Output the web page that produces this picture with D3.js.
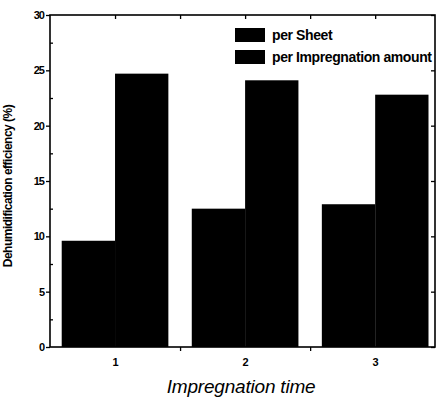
<!DOCTYPE html>
<html>
<head>
<meta charset="utf-8">
<script src="https://cdn.jsdelivr.net/npm/d3@7"></script>
<style>
  body { margin: 0; background: #fff; }
  text { font-family: "Liberation Sans", Arial, sans-serif; fill: #000; }
</style>
</head>
<body>
<svg width="440" height="398"></svg>
<script>
// data
var times = [1, 2, 3];
var perSheet = [9.6, 12.5, 12.9];
var perAmount = [24.7, 24.1, 22.8];
var seriesNames = ["per Sheet", "per Impregnation amount"];
var yTicks = [0, 5, 10, 15, 20, 25, 30];

// plot box
var margin = { top: 15, right: 5, bottom: 51, left: 50 },
    width = 440 - margin.left - margin.right,
    height = 398 - margin.top - margin.bottom;

var svg = d3.select("svg")
    .append("g")
    .attr("transform", "translate(" + margin.left + "," + margin.top + ")");

var x = d3.scaleLinear().domain([0.5, 3.46]).range([0, width]);
var y = d3.scaleLinear().domain([0, 30]).range([height, 0]);
var barW = 0.41;

// bars
var g = svg.append("g");
g.selectAll(".b1").data(times).enter().append("rect")
    .attr("x", function(d) { return x(d - barW); })
    .attr("y", function(d, i) { return y(perSheet[i]); })
    .attr("width", function(d) { return x(d) - x(d - barW); })
    .attr("height", function(d, i) { return y(0) - y(perSheet[i]); })
    .attr("fill", "#000");
g.selectAll(".b2").data(times).enter().append("rect")
    .attr("x", function(d) { return x(d); })
    .attr("y", function(d, i) { return y(perAmount[i]); })
    .attr("width", function(d) { return x(d + barW) - x(d); })
    .attr("height", function(d, i) { return y(0) - y(perAmount[i]); })
    .attr("fill", "#000");

// left axis: majors outward with labels, minors inward
var left = svg.append("g")
    .call(d3.axisLeft(y).tickValues(yTicks).tickSize(4).tickPadding(2));
left.selectAll("text").style("font-size", "11px").style("font-weight", "bold")
    .attr("letter-spacing", "-1");
svg.append("g")
    .call(d3.axisRight(y).tickValues(d3.range(2.5, 30, 5)).tickSize(3).tickFormat(""));

// right axis, ticks inward
svg.append("g").attr("transform", "translate(" + width + ",0)")
    .call(d3.axisLeft(y).tickValues(yTicks).tickSize(4).tickFormat(""));

// bottom axis
svg.append("g").attr("transform", "translate(0," + height + ")")
    .call(d3.axisBottom(x).tickValues([1.5, 2.5]).tickSize(4).tickFormat(""));
svg.append("g").attr("transform", "translate(0," + height + ")")
    .call(d3.axisBottom(x).tickValues(times).tickSize(0).tickPadding(11).tickFormat(d3.format("d")))
    .selectAll("text").style("font-size", "11px").style("font-weight", "bold");

// top axis, ticks inward
svg.append("g")
    .call(d3.axisBottom(x).tickValues([1, 1.5, 2, 2.5, 3]).tickSize(4).tickFormat(""));

svg.selectAll(".domain").remove();
svg.selectAll(".tick line").attr("stroke-width", 1.3);

// frame
svg.append("rect")
    .attr("width", width).attr("height", height)
    .attr("fill", "none").attr("stroke", "#000").attr("stroke-width", 1.6);

// axis titles
svg.append("text")
    .attr("transform", "rotate(-90)")
    .attr("x", -171)
    .attr("y", -38)
    .attr("text-anchor", "middle")
    .attr("letter-spacing", "-0.5")
    .style("font-size", "12px")
    .style("font-weight", "bold")
    .text("Dehumidification efficiency (%)");

svg.append("text")
    .attr("x", x(2) - 4)
    .attr("y", height + 46)
    .attr("text-anchor", "middle")
    .attr("letter-spacing", "-0.2")
    .style("font-size", "19px")
    .style("font-style", "italic")
    .text("Impregnation time");

// legend
var legend = svg.append("g").attr("transform", "translate(185,13)");
seriesNames.forEach(function(name, i) {
    legend.append("rect")
        .attr("x", 0).attr("y", i * 22)
        .attr("width", 30).attr("height", 14)
        .attr("fill", "#000");
    legend.append("text")
        .attr("x", 37).attr("y", i * 22 + 12)
        .attr("letter-spacing", "-0.4")
        .style("font-size", "14px")
        .style("font-weight", "bold")
        .text(name);
});
</script>
</body>
</html>
